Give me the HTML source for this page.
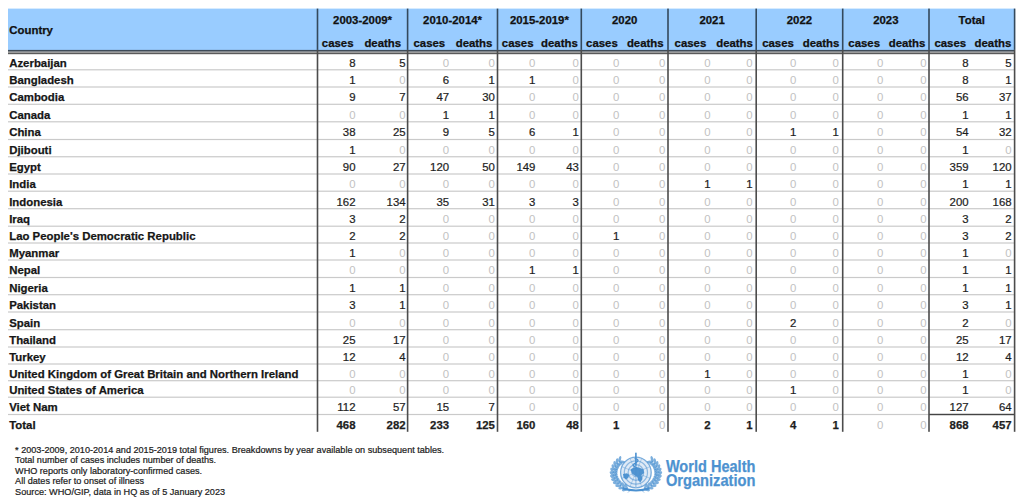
<!DOCTYPE html><html><head><meta charset="utf-8"><style>html,body{margin:0;padding:0;background:#fff;width:1024px;height:500px;overflow:hidden}svg{display:block}text{font-family:"Liberation Sans",sans-serif}</style></head><body>
<svg width="1024" height="500" viewBox="0 0 1024 500">
<rect x="8" y="8.6" width="1006.8" height="41.4" fill="#99ccff"/>
<rect x="8" y="49.9" width="1006.8" height="1.8" fill="#3e4b58"/>
<rect x="8" y="51.7" width="1006.8" height="1.2" fill="#9a9a9a"/>
<rect x="8" y="52.9" width="1006.8" height="1.3" fill="#5a5a5a"/>
<rect x="8" y="69.20" width="1006.8" height="1.2" fill="#cacaca"/>
<rect x="8" y="86.40" width="1006.8" height="1.2" fill="#cacaca"/>
<rect x="8" y="103.70" width="1006.8" height="1.2" fill="#cacaca"/>
<rect x="8" y="121.20" width="1006.8" height="1.2" fill="#cacaca"/>
<rect x="8" y="138.90" width="1006.8" height="1.2" fill="#cacaca"/>
<rect x="8" y="156.15" width="1006.8" height="1.2" fill="#cacaca"/>
<rect x="8" y="173.40" width="1006.8" height="1.2" fill="#cacaca"/>
<rect x="8" y="190.60" width="1006.8" height="1.2" fill="#cacaca"/>
<rect x="8" y="208.10" width="1006.8" height="1.2" fill="#cacaca"/>
<rect x="8" y="225.60" width="1006.8" height="1.2" fill="#cacaca"/>
<rect x="8" y="242.40" width="1006.8" height="1.2" fill="#cacaca"/>
<rect x="8" y="259.40" width="1006.8" height="1.2" fill="#cacaca"/>
<rect x="8" y="276.90" width="1006.8" height="1.2" fill="#cacaca"/>
<rect x="8" y="294.10" width="1006.8" height="1.2" fill="#cacaca"/>
<rect x="8" y="311.40" width="1006.8" height="1.2" fill="#cacaca"/>
<rect x="8" y="329.10" width="1006.8" height="1.2" fill="#cacaca"/>
<rect x="8" y="346.40" width="1006.8" height="1.2" fill="#cacaca"/>
<rect x="8" y="363.40" width="1006.8" height="1.2" fill="#cacaca"/>
<rect x="8" y="380.10" width="1006.8" height="1.2" fill="#cacaca"/>
<rect x="8" y="396.60" width="1006.8" height="1.2" fill="#cacaca"/>
<rect x="8" y="413.90" width="1006.8" height="1.2" fill="#cacaca"/>
<rect x="929.00" y="413.80" width="85.60" height="1.4" fill="#444"/>
<rect x="316.70" y="8.6" width="1.6" height="41.30" fill="#34495c"/>
<rect x="316.70" y="49.9" width="1.6" height="381.90" fill="#4c4c4c"/>
<rect x="406.80" y="8.6" width="1.6" height="41.30" fill="#34495c"/>
<rect x="406.80" y="49.9" width="1.6" height="381.90" fill="#4c4c4c"/>
<rect x="496.70" y="8.6" width="1.6" height="41.30" fill="#34495c"/>
<rect x="496.70" y="49.9" width="1.6" height="381.90" fill="#4c4c4c"/>
<rect x="580.50" y="8.6" width="1.6" height="41.30" fill="#34495c"/>
<rect x="580.50" y="49.9" width="1.6" height="381.90" fill="#4c4c4c"/>
<rect x="667.20" y="8.6" width="1.6" height="41.30" fill="#34495c"/>
<rect x="667.20" y="49.9" width="1.6" height="381.90" fill="#4c4c4c"/>
<rect x="755.40" y="8.6" width="1.6" height="41.30" fill="#34495c"/>
<rect x="755.40" y="49.9" width="1.6" height="381.90" fill="#4c4c4c"/>
<rect x="841.90" y="8.6" width="1.6" height="41.30" fill="#34495c"/>
<rect x="841.90" y="49.9" width="1.6" height="381.90" fill="#4c4c4c"/>
<rect x="928.20" y="8.6" width="1.6" height="41.30" fill="#34495c"/>
<rect x="928.20" y="49.9" width="1.6" height="381.90" fill="#4c4c4c"/>
<rect x="1013.80" y="8.6" width="1.6" height="41.30" fill="#34495c"/>
<rect x="1013.80" y="49.9" width="1.6" height="381.90" fill="#4c4c4c"/>
<text x="9.3" y="34.1" font-size="11.4" font-weight="bold" fill="#111" stroke="#111" stroke-width="0.25">Country</text>
<text x="362.55" y="23.5" font-size="11.4" font-weight="bold" fill="#111" text-anchor="middle" stroke="#111" stroke-width="0.25">2003-2009*</text>
<text x="321.80" y="47" font-size="11.4" font-weight="bold" fill="#111" stroke="#111" stroke-width="0.25">cases</text>
<text x="401.10" y="47" font-size="11.4" font-weight="bold" fill="#111" text-anchor="end" stroke="#111" stroke-width="0.25">deaths</text>
<text x="452.55" y="23.5" font-size="11.4" font-weight="bold" fill="#111" text-anchor="middle" stroke="#111" stroke-width="0.25">2010-2014*</text>
<text x="413.50" y="47" font-size="11.4" font-weight="bold" fill="#111" stroke="#111" stroke-width="0.25">cases</text>
<text x="492.40" y="47" font-size="11.4" font-weight="bold" fill="#111" text-anchor="end" stroke="#111" stroke-width="0.25">deaths</text>
<text x="539.40" y="23.5" font-size="11.4" font-weight="bold" fill="#111" text-anchor="middle" stroke="#111" stroke-width="0.25">2015-2019*</text>
<text x="501.80" y="47" font-size="11.4" font-weight="bold" fill="#111" stroke="#111" stroke-width="0.25">cases</text>
<text x="577.80" y="47" font-size="11.4" font-weight="bold" fill="#111" text-anchor="end" stroke="#111" stroke-width="0.25">deaths</text>
<text x="624.65" y="23.5" font-size="11.4" font-weight="bold" fill="#111" text-anchor="middle" stroke="#111" stroke-width="0.25">2020</text>
<text x="586.10" y="47" font-size="11.4" font-weight="bold" fill="#111" stroke="#111" stroke-width="0.25">cases</text>
<text x="663.60" y="47" font-size="11.4" font-weight="bold" fill="#111" text-anchor="end" stroke="#111" stroke-width="0.25">deaths</text>
<text x="712.10" y="23.5" font-size="11.4" font-weight="bold" fill="#111" text-anchor="middle" stroke="#111" stroke-width="0.25">2021</text>
<text x="674.60" y="47" font-size="11.4" font-weight="bold" fill="#111" stroke="#111" stroke-width="0.25">cases</text>
<text x="752.90" y="47" font-size="11.4" font-weight="bold" fill="#111" text-anchor="end" stroke="#111" stroke-width="0.25">deaths</text>
<text x="799.45" y="23.5" font-size="11.4" font-weight="bold" fill="#111" text-anchor="middle" stroke="#111" stroke-width="0.25">2022</text>
<text x="762.20" y="47" font-size="11.4" font-weight="bold" fill="#111" stroke="#111" stroke-width="0.25">cases</text>
<text x="839.40" y="47" font-size="11.4" font-weight="bold" fill="#111" text-anchor="end" stroke="#111" stroke-width="0.25">deaths</text>
<text x="885.85" y="23.5" font-size="11.4" font-weight="bold" fill="#111" text-anchor="middle" stroke="#111" stroke-width="0.25">2023</text>
<text x="848.30" y="47" font-size="11.4" font-weight="bold" fill="#111" stroke="#111" stroke-width="0.25">cases</text>
<text x="925.40" y="47" font-size="11.4" font-weight="bold" fill="#111" text-anchor="end" stroke="#111" stroke-width="0.25">deaths</text>
<text x="971.80" y="23.5" font-size="11.4" font-weight="bold" fill="#111" text-anchor="middle" stroke="#111" stroke-width="0.25">Total</text>
<text x="934.40" y="47" font-size="11.4" font-weight="bold" fill="#111" stroke="#111" stroke-width="0.25">cases</text>
<text x="1011.30" y="47" font-size="11.4" font-weight="bold" fill="#111" text-anchor="end" stroke="#111" stroke-width="0.25">deaths</text>
<text x="9.2" y="66.60" font-size="11.4" font-weight="bold" fill="#161616" stroke="#161616" stroke-width="0.25">Azerbaijan</text>
<text x="355.50" y="66.60" font-size="11.4" fill="#1e1e1e" text-anchor="end" stroke="#1e1e1e" stroke-width="0.22">8</text>
<text x="405.60" y="66.60" font-size="11.4" fill="#1e1e1e" text-anchor="end" stroke="#1e1e1e" stroke-width="0.22">5</text>
<text x="449.10" y="66.60" font-size="11.4" fill="#c2c2c2" text-anchor="end">0</text>
<text x="494.90" y="66.60" font-size="11.4" fill="#c2c2c2" text-anchor="end">0</text>
<text x="535.40" y="66.60" font-size="11.4" fill="#c2c2c2" text-anchor="end">0</text>
<text x="578.80" y="66.60" font-size="11.4" fill="#c2c2c2" text-anchor="end">0</text>
<text x="619.30" y="66.60" font-size="11.4" fill="#c2c2c2" text-anchor="end">0</text>
<text x="665.30" y="66.60" font-size="11.4" fill="#c2c2c2" text-anchor="end">0</text>
<text x="710.50" y="66.60" font-size="11.4" fill="#c2c2c2" text-anchor="end">0</text>
<text x="752.60" y="66.60" font-size="11.4" fill="#c2c2c2" text-anchor="end">0</text>
<text x="796.30" y="66.60" font-size="11.4" fill="#c2c2c2" text-anchor="end">0</text>
<text x="838.90" y="66.60" font-size="11.4" fill="#c2c2c2" text-anchor="end">0</text>
<text x="883.40" y="66.60" font-size="11.4" fill="#c2c2c2" text-anchor="end">0</text>
<text x="926.50" y="66.60" font-size="11.4" fill="#c2c2c2" text-anchor="end">0</text>
<text x="968.60" y="66.60" font-size="11.4" fill="#1e1e1e" text-anchor="end" stroke="#1e1e1e" stroke-width="0.22">8</text>
<text x="1011.60" y="66.60" font-size="11.4" fill="#1e1e1e" text-anchor="end" stroke="#1e1e1e" stroke-width="0.22">5</text>
<text x="9.2" y="83.80" font-size="11.4" font-weight="bold" fill="#161616" stroke="#161616" stroke-width="0.25">Bangladesh</text>
<text x="355.50" y="83.80" font-size="11.4" fill="#1e1e1e" text-anchor="end" stroke="#1e1e1e" stroke-width="0.22">1</text>
<text x="405.60" y="83.80" font-size="11.4" fill="#c2c2c2" text-anchor="end">0</text>
<text x="449.10" y="83.80" font-size="11.4" fill="#1e1e1e" text-anchor="end" stroke="#1e1e1e" stroke-width="0.22">6</text>
<text x="494.90" y="83.80" font-size="11.4" fill="#1e1e1e" text-anchor="end" stroke="#1e1e1e" stroke-width="0.22">1</text>
<text x="535.40" y="83.80" font-size="11.4" fill="#1e1e1e" text-anchor="end" stroke="#1e1e1e" stroke-width="0.22">1</text>
<text x="578.80" y="83.80" font-size="11.4" fill="#c2c2c2" text-anchor="end">0</text>
<text x="619.30" y="83.80" font-size="11.4" fill="#c2c2c2" text-anchor="end">0</text>
<text x="665.30" y="83.80" font-size="11.4" fill="#c2c2c2" text-anchor="end">0</text>
<text x="710.50" y="83.80" font-size="11.4" fill="#c2c2c2" text-anchor="end">0</text>
<text x="752.60" y="83.80" font-size="11.4" fill="#c2c2c2" text-anchor="end">0</text>
<text x="796.30" y="83.80" font-size="11.4" fill="#c2c2c2" text-anchor="end">0</text>
<text x="838.90" y="83.80" font-size="11.4" fill="#c2c2c2" text-anchor="end">0</text>
<text x="883.40" y="83.80" font-size="11.4" fill="#c2c2c2" text-anchor="end">0</text>
<text x="926.50" y="83.80" font-size="11.4" fill="#c2c2c2" text-anchor="end">0</text>
<text x="968.60" y="83.80" font-size="11.4" fill="#1e1e1e" text-anchor="end" stroke="#1e1e1e" stroke-width="0.22">8</text>
<text x="1011.60" y="83.80" font-size="11.4" fill="#1e1e1e" text-anchor="end" stroke="#1e1e1e" stroke-width="0.22">1</text>
<text x="9.2" y="101.10" font-size="11.4" font-weight="bold" fill="#161616" stroke="#161616" stroke-width="0.25">Cambodia</text>
<text x="355.50" y="101.10" font-size="11.4" fill="#1e1e1e" text-anchor="end" stroke="#1e1e1e" stroke-width="0.22">9</text>
<text x="405.60" y="101.10" font-size="11.4" fill="#1e1e1e" text-anchor="end" stroke="#1e1e1e" stroke-width="0.22">7</text>
<text x="449.10" y="101.10" font-size="11.4" fill="#1e1e1e" text-anchor="end" stroke="#1e1e1e" stroke-width="0.22">47</text>
<text x="494.90" y="101.10" font-size="11.4" fill="#1e1e1e" text-anchor="end" stroke="#1e1e1e" stroke-width="0.22">30</text>
<text x="535.40" y="101.10" font-size="11.4" fill="#c2c2c2" text-anchor="end">0</text>
<text x="578.80" y="101.10" font-size="11.4" fill="#c2c2c2" text-anchor="end">0</text>
<text x="619.30" y="101.10" font-size="11.4" fill="#c2c2c2" text-anchor="end">0</text>
<text x="665.30" y="101.10" font-size="11.4" fill="#c2c2c2" text-anchor="end">0</text>
<text x="710.50" y="101.10" font-size="11.4" fill="#c2c2c2" text-anchor="end">0</text>
<text x="752.60" y="101.10" font-size="11.4" fill="#c2c2c2" text-anchor="end">0</text>
<text x="796.30" y="101.10" font-size="11.4" fill="#c2c2c2" text-anchor="end">0</text>
<text x="838.90" y="101.10" font-size="11.4" fill="#c2c2c2" text-anchor="end">0</text>
<text x="883.40" y="101.10" font-size="11.4" fill="#c2c2c2" text-anchor="end">0</text>
<text x="926.50" y="101.10" font-size="11.4" fill="#c2c2c2" text-anchor="end">0</text>
<text x="968.60" y="101.10" font-size="11.4" fill="#1e1e1e" text-anchor="end" stroke="#1e1e1e" stroke-width="0.22">56</text>
<text x="1011.60" y="101.10" font-size="11.4" fill="#1e1e1e" text-anchor="end" stroke="#1e1e1e" stroke-width="0.22">37</text>
<text x="9.2" y="118.60" font-size="11.4" font-weight="bold" fill="#161616" stroke="#161616" stroke-width="0.25">Canada</text>
<text x="355.50" y="118.60" font-size="11.4" fill="#c2c2c2" text-anchor="end">0</text>
<text x="405.60" y="118.60" font-size="11.4" fill="#c2c2c2" text-anchor="end">0</text>
<text x="449.10" y="118.60" font-size="11.4" fill="#1e1e1e" text-anchor="end" stroke="#1e1e1e" stroke-width="0.22">1</text>
<text x="494.90" y="118.60" font-size="11.4" fill="#1e1e1e" text-anchor="end" stroke="#1e1e1e" stroke-width="0.22">1</text>
<text x="535.40" y="118.60" font-size="11.4" fill="#c2c2c2" text-anchor="end">0</text>
<text x="578.80" y="118.60" font-size="11.4" fill="#c2c2c2" text-anchor="end">0</text>
<text x="619.30" y="118.60" font-size="11.4" fill="#c2c2c2" text-anchor="end">0</text>
<text x="665.30" y="118.60" font-size="11.4" fill="#c2c2c2" text-anchor="end">0</text>
<text x="710.50" y="118.60" font-size="11.4" fill="#c2c2c2" text-anchor="end">0</text>
<text x="752.60" y="118.60" font-size="11.4" fill="#c2c2c2" text-anchor="end">0</text>
<text x="796.30" y="118.60" font-size="11.4" fill="#c2c2c2" text-anchor="end">0</text>
<text x="838.90" y="118.60" font-size="11.4" fill="#c2c2c2" text-anchor="end">0</text>
<text x="883.40" y="118.60" font-size="11.4" fill="#c2c2c2" text-anchor="end">0</text>
<text x="926.50" y="118.60" font-size="11.4" fill="#c2c2c2" text-anchor="end">0</text>
<text x="968.60" y="118.60" font-size="11.4" fill="#1e1e1e" text-anchor="end" stroke="#1e1e1e" stroke-width="0.22">1</text>
<text x="1011.60" y="118.60" font-size="11.4" fill="#1e1e1e" text-anchor="end" stroke="#1e1e1e" stroke-width="0.22">1</text>
<text x="9.2" y="136.30" font-size="11.4" font-weight="bold" fill="#161616" stroke="#161616" stroke-width="0.25">China</text>
<text x="355.50" y="136.30" font-size="11.4" fill="#1e1e1e" text-anchor="end" stroke="#1e1e1e" stroke-width="0.22">38</text>
<text x="405.60" y="136.30" font-size="11.4" fill="#1e1e1e" text-anchor="end" stroke="#1e1e1e" stroke-width="0.22">25</text>
<text x="449.10" y="136.30" font-size="11.4" fill="#1e1e1e" text-anchor="end" stroke="#1e1e1e" stroke-width="0.22">9</text>
<text x="494.90" y="136.30" font-size="11.4" fill="#1e1e1e" text-anchor="end" stroke="#1e1e1e" stroke-width="0.22">5</text>
<text x="535.40" y="136.30" font-size="11.4" fill="#1e1e1e" text-anchor="end" stroke="#1e1e1e" stroke-width="0.22">6</text>
<text x="578.80" y="136.30" font-size="11.4" fill="#1e1e1e" text-anchor="end" stroke="#1e1e1e" stroke-width="0.22">1</text>
<text x="619.30" y="136.30" font-size="11.4" fill="#c2c2c2" text-anchor="end">0</text>
<text x="665.30" y="136.30" font-size="11.4" fill="#c2c2c2" text-anchor="end">0</text>
<text x="710.50" y="136.30" font-size="11.4" fill="#c2c2c2" text-anchor="end">0</text>
<text x="752.60" y="136.30" font-size="11.4" fill="#c2c2c2" text-anchor="end">0</text>
<text x="796.30" y="136.30" font-size="11.4" fill="#1e1e1e" text-anchor="end" stroke="#1e1e1e" stroke-width="0.22">1</text>
<text x="838.90" y="136.30" font-size="11.4" fill="#1e1e1e" text-anchor="end" stroke="#1e1e1e" stroke-width="0.22">1</text>
<text x="883.40" y="136.30" font-size="11.4" fill="#c2c2c2" text-anchor="end">0</text>
<text x="926.50" y="136.30" font-size="11.4" fill="#c2c2c2" text-anchor="end">0</text>
<text x="968.60" y="136.30" font-size="11.4" fill="#1e1e1e" text-anchor="end" stroke="#1e1e1e" stroke-width="0.22">54</text>
<text x="1011.60" y="136.30" font-size="11.4" fill="#1e1e1e" text-anchor="end" stroke="#1e1e1e" stroke-width="0.22">32</text>
<text x="9.2" y="153.55" font-size="11.4" font-weight="bold" fill="#161616" stroke="#161616" stroke-width="0.25">Djibouti</text>
<text x="355.50" y="153.55" font-size="11.4" fill="#1e1e1e" text-anchor="end" stroke="#1e1e1e" stroke-width="0.22">1</text>
<text x="405.60" y="153.55" font-size="11.4" fill="#c2c2c2" text-anchor="end">0</text>
<text x="449.10" y="153.55" font-size="11.4" fill="#c2c2c2" text-anchor="end">0</text>
<text x="494.90" y="153.55" font-size="11.4" fill="#c2c2c2" text-anchor="end">0</text>
<text x="535.40" y="153.55" font-size="11.4" fill="#c2c2c2" text-anchor="end">0</text>
<text x="578.80" y="153.55" font-size="11.4" fill="#c2c2c2" text-anchor="end">0</text>
<text x="619.30" y="153.55" font-size="11.4" fill="#c2c2c2" text-anchor="end">0</text>
<text x="665.30" y="153.55" font-size="11.4" fill="#c2c2c2" text-anchor="end">0</text>
<text x="710.50" y="153.55" font-size="11.4" fill="#c2c2c2" text-anchor="end">0</text>
<text x="752.60" y="153.55" font-size="11.4" fill="#c2c2c2" text-anchor="end">0</text>
<text x="796.30" y="153.55" font-size="11.4" fill="#c2c2c2" text-anchor="end">0</text>
<text x="838.90" y="153.55" font-size="11.4" fill="#c2c2c2" text-anchor="end">0</text>
<text x="883.40" y="153.55" font-size="11.4" fill="#c2c2c2" text-anchor="end">0</text>
<text x="926.50" y="153.55" font-size="11.4" fill="#c2c2c2" text-anchor="end">0</text>
<text x="968.60" y="153.55" font-size="11.4" fill="#1e1e1e" text-anchor="end" stroke="#1e1e1e" stroke-width="0.22">1</text>
<text x="1011.60" y="153.55" font-size="11.4" fill="#c2c2c2" text-anchor="end">0</text>
<text x="9.2" y="170.80" font-size="11.4" font-weight="bold" fill="#161616" stroke="#161616" stroke-width="0.25">Egypt</text>
<text x="355.50" y="170.80" font-size="11.4" fill="#1e1e1e" text-anchor="end" stroke="#1e1e1e" stroke-width="0.22">90</text>
<text x="405.60" y="170.80" font-size="11.4" fill="#1e1e1e" text-anchor="end" stroke="#1e1e1e" stroke-width="0.22">27</text>
<text x="449.10" y="170.80" font-size="11.4" fill="#1e1e1e" text-anchor="end" stroke="#1e1e1e" stroke-width="0.22">120</text>
<text x="494.90" y="170.80" font-size="11.4" fill="#1e1e1e" text-anchor="end" stroke="#1e1e1e" stroke-width="0.22">50</text>
<text x="535.40" y="170.80" font-size="11.4" fill="#1e1e1e" text-anchor="end" stroke="#1e1e1e" stroke-width="0.22">149</text>
<text x="578.80" y="170.80" font-size="11.4" fill="#1e1e1e" text-anchor="end" stroke="#1e1e1e" stroke-width="0.22">43</text>
<text x="619.30" y="170.80" font-size="11.4" fill="#c2c2c2" text-anchor="end">0</text>
<text x="665.30" y="170.80" font-size="11.4" fill="#c2c2c2" text-anchor="end">0</text>
<text x="710.50" y="170.80" font-size="11.4" fill="#c2c2c2" text-anchor="end">0</text>
<text x="752.60" y="170.80" font-size="11.4" fill="#c2c2c2" text-anchor="end">0</text>
<text x="796.30" y="170.80" font-size="11.4" fill="#c2c2c2" text-anchor="end">0</text>
<text x="838.90" y="170.80" font-size="11.4" fill="#c2c2c2" text-anchor="end">0</text>
<text x="883.40" y="170.80" font-size="11.4" fill="#c2c2c2" text-anchor="end">0</text>
<text x="926.50" y="170.80" font-size="11.4" fill="#c2c2c2" text-anchor="end">0</text>
<text x="968.60" y="170.80" font-size="11.4" fill="#1e1e1e" text-anchor="end" stroke="#1e1e1e" stroke-width="0.22">359</text>
<text x="1011.60" y="170.80" font-size="11.4" fill="#1e1e1e" text-anchor="end" stroke="#1e1e1e" stroke-width="0.22">120</text>
<text x="9.2" y="188.00" font-size="11.4" font-weight="bold" fill="#161616" stroke="#161616" stroke-width="0.25">India</text>
<text x="355.50" y="188.00" font-size="11.4" fill="#c2c2c2" text-anchor="end">0</text>
<text x="405.60" y="188.00" font-size="11.4" fill="#c2c2c2" text-anchor="end">0</text>
<text x="449.10" y="188.00" font-size="11.4" fill="#c2c2c2" text-anchor="end">0</text>
<text x="494.90" y="188.00" font-size="11.4" fill="#c2c2c2" text-anchor="end">0</text>
<text x="535.40" y="188.00" font-size="11.4" fill="#c2c2c2" text-anchor="end">0</text>
<text x="578.80" y="188.00" font-size="11.4" fill="#c2c2c2" text-anchor="end">0</text>
<text x="619.30" y="188.00" font-size="11.4" fill="#c2c2c2" text-anchor="end">0</text>
<text x="665.30" y="188.00" font-size="11.4" fill="#c2c2c2" text-anchor="end">0</text>
<text x="710.50" y="188.00" font-size="11.4" fill="#1e1e1e" text-anchor="end" stroke="#1e1e1e" stroke-width="0.22">1</text>
<text x="752.60" y="188.00" font-size="11.4" fill="#1e1e1e" text-anchor="end" stroke="#1e1e1e" stroke-width="0.22">1</text>
<text x="796.30" y="188.00" font-size="11.4" fill="#c2c2c2" text-anchor="end">0</text>
<text x="838.90" y="188.00" font-size="11.4" fill="#c2c2c2" text-anchor="end">0</text>
<text x="883.40" y="188.00" font-size="11.4" fill="#c2c2c2" text-anchor="end">0</text>
<text x="926.50" y="188.00" font-size="11.4" fill="#c2c2c2" text-anchor="end">0</text>
<text x="968.60" y="188.00" font-size="11.4" fill="#1e1e1e" text-anchor="end" stroke="#1e1e1e" stroke-width="0.22">1</text>
<text x="1011.60" y="188.00" font-size="11.4" fill="#1e1e1e" text-anchor="end" stroke="#1e1e1e" stroke-width="0.22">1</text>
<text x="9.2" y="205.50" font-size="11.4" font-weight="bold" fill="#161616" stroke="#161616" stroke-width="0.25">Indonesia</text>
<text x="355.50" y="205.50" font-size="11.4" fill="#1e1e1e" text-anchor="end" stroke="#1e1e1e" stroke-width="0.22">162</text>
<text x="405.60" y="205.50" font-size="11.4" fill="#1e1e1e" text-anchor="end" stroke="#1e1e1e" stroke-width="0.22">134</text>
<text x="449.10" y="205.50" font-size="11.4" fill="#1e1e1e" text-anchor="end" stroke="#1e1e1e" stroke-width="0.22">35</text>
<text x="494.90" y="205.50" font-size="11.4" fill="#1e1e1e" text-anchor="end" stroke="#1e1e1e" stroke-width="0.22">31</text>
<text x="535.40" y="205.50" font-size="11.4" fill="#1e1e1e" text-anchor="end" stroke="#1e1e1e" stroke-width="0.22">3</text>
<text x="578.80" y="205.50" font-size="11.4" fill="#1e1e1e" text-anchor="end" stroke="#1e1e1e" stroke-width="0.22">3</text>
<text x="619.30" y="205.50" font-size="11.4" fill="#c2c2c2" text-anchor="end">0</text>
<text x="665.30" y="205.50" font-size="11.4" fill="#c2c2c2" text-anchor="end">0</text>
<text x="710.50" y="205.50" font-size="11.4" fill="#c2c2c2" text-anchor="end">0</text>
<text x="752.60" y="205.50" font-size="11.4" fill="#c2c2c2" text-anchor="end">0</text>
<text x="796.30" y="205.50" font-size="11.4" fill="#c2c2c2" text-anchor="end">0</text>
<text x="838.90" y="205.50" font-size="11.4" fill="#c2c2c2" text-anchor="end">0</text>
<text x="883.40" y="205.50" font-size="11.4" fill="#c2c2c2" text-anchor="end">0</text>
<text x="926.50" y="205.50" font-size="11.4" fill="#c2c2c2" text-anchor="end">0</text>
<text x="968.60" y="205.50" font-size="11.4" fill="#1e1e1e" text-anchor="end" stroke="#1e1e1e" stroke-width="0.22">200</text>
<text x="1011.60" y="205.50" font-size="11.4" fill="#1e1e1e" text-anchor="end" stroke="#1e1e1e" stroke-width="0.22">168</text>
<text x="9.2" y="223.00" font-size="11.4" font-weight="bold" fill="#161616" stroke="#161616" stroke-width="0.25">Iraq</text>
<text x="355.50" y="223.00" font-size="11.4" fill="#1e1e1e" text-anchor="end" stroke="#1e1e1e" stroke-width="0.22">3</text>
<text x="405.60" y="223.00" font-size="11.4" fill="#1e1e1e" text-anchor="end" stroke="#1e1e1e" stroke-width="0.22">2</text>
<text x="449.10" y="223.00" font-size="11.4" fill="#c2c2c2" text-anchor="end">0</text>
<text x="494.90" y="223.00" font-size="11.4" fill="#c2c2c2" text-anchor="end">0</text>
<text x="535.40" y="223.00" font-size="11.4" fill="#c2c2c2" text-anchor="end">0</text>
<text x="578.80" y="223.00" font-size="11.4" fill="#c2c2c2" text-anchor="end">0</text>
<text x="619.30" y="223.00" font-size="11.4" fill="#c2c2c2" text-anchor="end">0</text>
<text x="665.30" y="223.00" font-size="11.4" fill="#c2c2c2" text-anchor="end">0</text>
<text x="710.50" y="223.00" font-size="11.4" fill="#c2c2c2" text-anchor="end">0</text>
<text x="752.60" y="223.00" font-size="11.4" fill="#c2c2c2" text-anchor="end">0</text>
<text x="796.30" y="223.00" font-size="11.4" fill="#c2c2c2" text-anchor="end">0</text>
<text x="838.90" y="223.00" font-size="11.4" fill="#c2c2c2" text-anchor="end">0</text>
<text x="883.40" y="223.00" font-size="11.4" fill="#c2c2c2" text-anchor="end">0</text>
<text x="926.50" y="223.00" font-size="11.4" fill="#c2c2c2" text-anchor="end">0</text>
<text x="968.60" y="223.00" font-size="11.4" fill="#1e1e1e" text-anchor="end" stroke="#1e1e1e" stroke-width="0.22">3</text>
<text x="1011.60" y="223.00" font-size="11.4" fill="#1e1e1e" text-anchor="end" stroke="#1e1e1e" stroke-width="0.22">2</text>
<text x="9.2" y="239.80" font-size="11.4" font-weight="bold" fill="#161616" stroke="#161616" stroke-width="0.25">Lao People&#39;s Democratic Republic</text>
<text x="355.50" y="239.80" font-size="11.4" fill="#1e1e1e" text-anchor="end" stroke="#1e1e1e" stroke-width="0.22">2</text>
<text x="405.60" y="239.80" font-size="11.4" fill="#1e1e1e" text-anchor="end" stroke="#1e1e1e" stroke-width="0.22">2</text>
<text x="449.10" y="239.80" font-size="11.4" fill="#c2c2c2" text-anchor="end">0</text>
<text x="494.90" y="239.80" font-size="11.4" fill="#c2c2c2" text-anchor="end">0</text>
<text x="535.40" y="239.80" font-size="11.4" fill="#c2c2c2" text-anchor="end">0</text>
<text x="578.80" y="239.80" font-size="11.4" fill="#c2c2c2" text-anchor="end">0</text>
<text x="619.30" y="239.80" font-size="11.4" fill="#1e1e1e" text-anchor="end" stroke="#1e1e1e" stroke-width="0.22">1</text>
<text x="665.30" y="239.80" font-size="11.4" fill="#c2c2c2" text-anchor="end">0</text>
<text x="710.50" y="239.80" font-size="11.4" fill="#c2c2c2" text-anchor="end">0</text>
<text x="752.60" y="239.80" font-size="11.4" fill="#c2c2c2" text-anchor="end">0</text>
<text x="796.30" y="239.80" font-size="11.4" fill="#c2c2c2" text-anchor="end">0</text>
<text x="838.90" y="239.80" font-size="11.4" fill="#c2c2c2" text-anchor="end">0</text>
<text x="883.40" y="239.80" font-size="11.4" fill="#c2c2c2" text-anchor="end">0</text>
<text x="926.50" y="239.80" font-size="11.4" fill="#c2c2c2" text-anchor="end">0</text>
<text x="968.60" y="239.80" font-size="11.4" fill="#1e1e1e" text-anchor="end" stroke="#1e1e1e" stroke-width="0.22">3</text>
<text x="1011.60" y="239.80" font-size="11.4" fill="#1e1e1e" text-anchor="end" stroke="#1e1e1e" stroke-width="0.22">2</text>
<text x="9.2" y="256.80" font-size="11.4" font-weight="bold" fill="#161616" stroke="#161616" stroke-width="0.25">Myanmar</text>
<text x="355.50" y="256.80" font-size="11.4" fill="#1e1e1e" text-anchor="end" stroke="#1e1e1e" stroke-width="0.22">1</text>
<text x="405.60" y="256.80" font-size="11.4" fill="#c2c2c2" text-anchor="end">0</text>
<text x="449.10" y="256.80" font-size="11.4" fill="#c2c2c2" text-anchor="end">0</text>
<text x="494.90" y="256.80" font-size="11.4" fill="#c2c2c2" text-anchor="end">0</text>
<text x="535.40" y="256.80" font-size="11.4" fill="#c2c2c2" text-anchor="end">0</text>
<text x="578.80" y="256.80" font-size="11.4" fill="#c2c2c2" text-anchor="end">0</text>
<text x="619.30" y="256.80" font-size="11.4" fill="#c2c2c2" text-anchor="end">0</text>
<text x="665.30" y="256.80" font-size="11.4" fill="#c2c2c2" text-anchor="end">0</text>
<text x="710.50" y="256.80" font-size="11.4" fill="#c2c2c2" text-anchor="end">0</text>
<text x="752.60" y="256.80" font-size="11.4" fill="#c2c2c2" text-anchor="end">0</text>
<text x="796.30" y="256.80" font-size="11.4" fill="#c2c2c2" text-anchor="end">0</text>
<text x="838.90" y="256.80" font-size="11.4" fill="#c2c2c2" text-anchor="end">0</text>
<text x="883.40" y="256.80" font-size="11.4" fill="#c2c2c2" text-anchor="end">0</text>
<text x="926.50" y="256.80" font-size="11.4" fill="#c2c2c2" text-anchor="end">0</text>
<text x="968.60" y="256.80" font-size="11.4" fill="#1e1e1e" text-anchor="end" stroke="#1e1e1e" stroke-width="0.22">1</text>
<text x="1011.60" y="256.80" font-size="11.4" fill="#c2c2c2" text-anchor="end">0</text>
<text x="9.2" y="274.30" font-size="11.4" font-weight="bold" fill="#161616" stroke="#161616" stroke-width="0.25">Nepal</text>
<text x="355.50" y="274.30" font-size="11.4" fill="#c2c2c2" text-anchor="end">0</text>
<text x="405.60" y="274.30" font-size="11.4" fill="#c2c2c2" text-anchor="end">0</text>
<text x="449.10" y="274.30" font-size="11.4" fill="#c2c2c2" text-anchor="end">0</text>
<text x="494.90" y="274.30" font-size="11.4" fill="#c2c2c2" text-anchor="end">0</text>
<text x="535.40" y="274.30" font-size="11.4" fill="#1e1e1e" text-anchor="end" stroke="#1e1e1e" stroke-width="0.22">1</text>
<text x="578.80" y="274.30" font-size="11.4" fill="#1e1e1e" text-anchor="end" stroke="#1e1e1e" stroke-width="0.22">1</text>
<text x="619.30" y="274.30" font-size="11.4" fill="#c2c2c2" text-anchor="end">0</text>
<text x="665.30" y="274.30" font-size="11.4" fill="#c2c2c2" text-anchor="end">0</text>
<text x="710.50" y="274.30" font-size="11.4" fill="#c2c2c2" text-anchor="end">0</text>
<text x="752.60" y="274.30" font-size="11.4" fill="#c2c2c2" text-anchor="end">0</text>
<text x="796.30" y="274.30" font-size="11.4" fill="#c2c2c2" text-anchor="end">0</text>
<text x="838.90" y="274.30" font-size="11.4" fill="#c2c2c2" text-anchor="end">0</text>
<text x="883.40" y="274.30" font-size="11.4" fill="#c2c2c2" text-anchor="end">0</text>
<text x="926.50" y="274.30" font-size="11.4" fill="#c2c2c2" text-anchor="end">0</text>
<text x="968.60" y="274.30" font-size="11.4" fill="#1e1e1e" text-anchor="end" stroke="#1e1e1e" stroke-width="0.22">1</text>
<text x="1011.60" y="274.30" font-size="11.4" fill="#1e1e1e" text-anchor="end" stroke="#1e1e1e" stroke-width="0.22">1</text>
<text x="9.2" y="291.50" font-size="11.4" font-weight="bold" fill="#161616" stroke="#161616" stroke-width="0.25">Nigeria</text>
<text x="355.50" y="291.50" font-size="11.4" fill="#1e1e1e" text-anchor="end" stroke="#1e1e1e" stroke-width="0.22">1</text>
<text x="405.60" y="291.50" font-size="11.4" fill="#1e1e1e" text-anchor="end" stroke="#1e1e1e" stroke-width="0.22">1</text>
<text x="449.10" y="291.50" font-size="11.4" fill="#c2c2c2" text-anchor="end">0</text>
<text x="494.90" y="291.50" font-size="11.4" fill="#c2c2c2" text-anchor="end">0</text>
<text x="535.40" y="291.50" font-size="11.4" fill="#c2c2c2" text-anchor="end">0</text>
<text x="578.80" y="291.50" font-size="11.4" fill="#c2c2c2" text-anchor="end">0</text>
<text x="619.30" y="291.50" font-size="11.4" fill="#c2c2c2" text-anchor="end">0</text>
<text x="665.30" y="291.50" font-size="11.4" fill="#c2c2c2" text-anchor="end">0</text>
<text x="710.50" y="291.50" font-size="11.4" fill="#c2c2c2" text-anchor="end">0</text>
<text x="752.60" y="291.50" font-size="11.4" fill="#c2c2c2" text-anchor="end">0</text>
<text x="796.30" y="291.50" font-size="11.4" fill="#c2c2c2" text-anchor="end">0</text>
<text x="838.90" y="291.50" font-size="11.4" fill="#c2c2c2" text-anchor="end">0</text>
<text x="883.40" y="291.50" font-size="11.4" fill="#c2c2c2" text-anchor="end">0</text>
<text x="926.50" y="291.50" font-size="11.4" fill="#c2c2c2" text-anchor="end">0</text>
<text x="968.60" y="291.50" font-size="11.4" fill="#1e1e1e" text-anchor="end" stroke="#1e1e1e" stroke-width="0.22">1</text>
<text x="1011.60" y="291.50" font-size="11.4" fill="#1e1e1e" text-anchor="end" stroke="#1e1e1e" stroke-width="0.22">1</text>
<text x="9.2" y="308.80" font-size="11.4" font-weight="bold" fill="#161616" stroke="#161616" stroke-width="0.25">Pakistan</text>
<text x="355.50" y="308.80" font-size="11.4" fill="#1e1e1e" text-anchor="end" stroke="#1e1e1e" stroke-width="0.22">3</text>
<text x="405.60" y="308.80" font-size="11.4" fill="#1e1e1e" text-anchor="end" stroke="#1e1e1e" stroke-width="0.22">1</text>
<text x="449.10" y="308.80" font-size="11.4" fill="#c2c2c2" text-anchor="end">0</text>
<text x="494.90" y="308.80" font-size="11.4" fill="#c2c2c2" text-anchor="end">0</text>
<text x="535.40" y="308.80" font-size="11.4" fill="#c2c2c2" text-anchor="end">0</text>
<text x="578.80" y="308.80" font-size="11.4" fill="#c2c2c2" text-anchor="end">0</text>
<text x="619.30" y="308.80" font-size="11.4" fill="#c2c2c2" text-anchor="end">0</text>
<text x="665.30" y="308.80" font-size="11.4" fill="#c2c2c2" text-anchor="end">0</text>
<text x="710.50" y="308.80" font-size="11.4" fill="#c2c2c2" text-anchor="end">0</text>
<text x="752.60" y="308.80" font-size="11.4" fill="#c2c2c2" text-anchor="end">0</text>
<text x="796.30" y="308.80" font-size="11.4" fill="#c2c2c2" text-anchor="end">0</text>
<text x="838.90" y="308.80" font-size="11.4" fill="#c2c2c2" text-anchor="end">0</text>
<text x="883.40" y="308.80" font-size="11.4" fill="#c2c2c2" text-anchor="end">0</text>
<text x="926.50" y="308.80" font-size="11.4" fill="#c2c2c2" text-anchor="end">0</text>
<text x="968.60" y="308.80" font-size="11.4" fill="#1e1e1e" text-anchor="end" stroke="#1e1e1e" stroke-width="0.22">3</text>
<text x="1011.60" y="308.80" font-size="11.4" fill="#1e1e1e" text-anchor="end" stroke="#1e1e1e" stroke-width="0.22">1</text>
<text x="9.2" y="326.50" font-size="11.4" font-weight="bold" fill="#161616" stroke="#161616" stroke-width="0.25">Spain</text>
<text x="355.50" y="326.50" font-size="11.4" fill="#c2c2c2" text-anchor="end">0</text>
<text x="405.60" y="326.50" font-size="11.4" fill="#c2c2c2" text-anchor="end">0</text>
<text x="449.10" y="326.50" font-size="11.4" fill="#c2c2c2" text-anchor="end">0</text>
<text x="494.90" y="326.50" font-size="11.4" fill="#c2c2c2" text-anchor="end">0</text>
<text x="535.40" y="326.50" font-size="11.4" fill="#c2c2c2" text-anchor="end">0</text>
<text x="578.80" y="326.50" font-size="11.4" fill="#c2c2c2" text-anchor="end">0</text>
<text x="619.30" y="326.50" font-size="11.4" fill="#c2c2c2" text-anchor="end">0</text>
<text x="665.30" y="326.50" font-size="11.4" fill="#c2c2c2" text-anchor="end">0</text>
<text x="710.50" y="326.50" font-size="11.4" fill="#c2c2c2" text-anchor="end">0</text>
<text x="752.60" y="326.50" font-size="11.4" fill="#c2c2c2" text-anchor="end">0</text>
<text x="796.30" y="326.50" font-size="11.4" fill="#1e1e1e" text-anchor="end" stroke="#1e1e1e" stroke-width="0.22">2</text>
<text x="838.90" y="326.50" font-size="11.4" fill="#c2c2c2" text-anchor="end">0</text>
<text x="883.40" y="326.50" font-size="11.4" fill="#c2c2c2" text-anchor="end">0</text>
<text x="926.50" y="326.50" font-size="11.4" fill="#c2c2c2" text-anchor="end">0</text>
<text x="968.60" y="326.50" font-size="11.4" fill="#1e1e1e" text-anchor="end" stroke="#1e1e1e" stroke-width="0.22">2</text>
<text x="1011.60" y="326.50" font-size="11.4" fill="#c2c2c2" text-anchor="end">0</text>
<text x="9.2" y="343.80" font-size="11.4" font-weight="bold" fill="#161616" stroke="#161616" stroke-width="0.25">Thailand</text>
<text x="355.50" y="343.80" font-size="11.4" fill="#1e1e1e" text-anchor="end" stroke="#1e1e1e" stroke-width="0.22">25</text>
<text x="405.60" y="343.80" font-size="11.4" fill="#1e1e1e" text-anchor="end" stroke="#1e1e1e" stroke-width="0.22">17</text>
<text x="449.10" y="343.80" font-size="11.4" fill="#c2c2c2" text-anchor="end">0</text>
<text x="494.90" y="343.80" font-size="11.4" fill="#c2c2c2" text-anchor="end">0</text>
<text x="535.40" y="343.80" font-size="11.4" fill="#c2c2c2" text-anchor="end">0</text>
<text x="578.80" y="343.80" font-size="11.4" fill="#c2c2c2" text-anchor="end">0</text>
<text x="619.30" y="343.80" font-size="11.4" fill="#c2c2c2" text-anchor="end">0</text>
<text x="665.30" y="343.80" font-size="11.4" fill="#c2c2c2" text-anchor="end">0</text>
<text x="710.50" y="343.80" font-size="11.4" fill="#c2c2c2" text-anchor="end">0</text>
<text x="752.60" y="343.80" font-size="11.4" fill="#c2c2c2" text-anchor="end">0</text>
<text x="796.30" y="343.80" font-size="11.4" fill="#c2c2c2" text-anchor="end">0</text>
<text x="838.90" y="343.80" font-size="11.4" fill="#c2c2c2" text-anchor="end">0</text>
<text x="883.40" y="343.80" font-size="11.4" fill="#c2c2c2" text-anchor="end">0</text>
<text x="926.50" y="343.80" font-size="11.4" fill="#c2c2c2" text-anchor="end">0</text>
<text x="968.60" y="343.80" font-size="11.4" fill="#1e1e1e" text-anchor="end" stroke="#1e1e1e" stroke-width="0.22">25</text>
<text x="1011.60" y="343.80" font-size="11.4" fill="#1e1e1e" text-anchor="end" stroke="#1e1e1e" stroke-width="0.22">17</text>
<text x="9.2" y="360.80" font-size="11.4" font-weight="bold" fill="#161616" stroke="#161616" stroke-width="0.25">Turkey</text>
<text x="355.50" y="360.80" font-size="11.4" fill="#1e1e1e" text-anchor="end" stroke="#1e1e1e" stroke-width="0.22">12</text>
<text x="405.60" y="360.80" font-size="11.4" fill="#1e1e1e" text-anchor="end" stroke="#1e1e1e" stroke-width="0.22">4</text>
<text x="449.10" y="360.80" font-size="11.4" fill="#c2c2c2" text-anchor="end">0</text>
<text x="494.90" y="360.80" font-size="11.4" fill="#c2c2c2" text-anchor="end">0</text>
<text x="535.40" y="360.80" font-size="11.4" fill="#c2c2c2" text-anchor="end">0</text>
<text x="578.80" y="360.80" font-size="11.4" fill="#c2c2c2" text-anchor="end">0</text>
<text x="619.30" y="360.80" font-size="11.4" fill="#c2c2c2" text-anchor="end">0</text>
<text x="665.30" y="360.80" font-size="11.4" fill="#c2c2c2" text-anchor="end">0</text>
<text x="710.50" y="360.80" font-size="11.4" fill="#c2c2c2" text-anchor="end">0</text>
<text x="752.60" y="360.80" font-size="11.4" fill="#c2c2c2" text-anchor="end">0</text>
<text x="796.30" y="360.80" font-size="11.4" fill="#c2c2c2" text-anchor="end">0</text>
<text x="838.90" y="360.80" font-size="11.4" fill="#c2c2c2" text-anchor="end">0</text>
<text x="883.40" y="360.80" font-size="11.4" fill="#c2c2c2" text-anchor="end">0</text>
<text x="926.50" y="360.80" font-size="11.4" fill="#c2c2c2" text-anchor="end">0</text>
<text x="968.60" y="360.80" font-size="11.4" fill="#1e1e1e" text-anchor="end" stroke="#1e1e1e" stroke-width="0.22">12</text>
<text x="1011.60" y="360.80" font-size="11.4" fill="#1e1e1e" text-anchor="end" stroke="#1e1e1e" stroke-width="0.22">4</text>
<text x="9.2" y="377.50" font-size="11.4" font-weight="bold" fill="#161616" stroke="#161616" stroke-width="0.25">United Kingdom of Great Britain and Northern Ireland</text>
<text x="355.50" y="377.50" font-size="11.4" fill="#c2c2c2" text-anchor="end">0</text>
<text x="405.60" y="377.50" font-size="11.4" fill="#c2c2c2" text-anchor="end">0</text>
<text x="449.10" y="377.50" font-size="11.4" fill="#c2c2c2" text-anchor="end">0</text>
<text x="494.90" y="377.50" font-size="11.4" fill="#c2c2c2" text-anchor="end">0</text>
<text x="535.40" y="377.50" font-size="11.4" fill="#c2c2c2" text-anchor="end">0</text>
<text x="578.80" y="377.50" font-size="11.4" fill="#c2c2c2" text-anchor="end">0</text>
<text x="619.30" y="377.50" font-size="11.4" fill="#c2c2c2" text-anchor="end">0</text>
<text x="665.30" y="377.50" font-size="11.4" fill="#c2c2c2" text-anchor="end">0</text>
<text x="710.50" y="377.50" font-size="11.4" fill="#1e1e1e" text-anchor="end" stroke="#1e1e1e" stroke-width="0.22">1</text>
<text x="752.60" y="377.50" font-size="11.4" fill="#c2c2c2" text-anchor="end">0</text>
<text x="796.30" y="377.50" font-size="11.4" fill="#c2c2c2" text-anchor="end">0</text>
<text x="838.90" y="377.50" font-size="11.4" fill="#c2c2c2" text-anchor="end">0</text>
<text x="883.40" y="377.50" font-size="11.4" fill="#c2c2c2" text-anchor="end">0</text>
<text x="926.50" y="377.50" font-size="11.4" fill="#c2c2c2" text-anchor="end">0</text>
<text x="968.60" y="377.50" font-size="11.4" fill="#1e1e1e" text-anchor="end" stroke="#1e1e1e" stroke-width="0.22">1</text>
<text x="1011.60" y="377.50" font-size="11.4" fill="#c2c2c2" text-anchor="end">0</text>
<text x="9.2" y="394.00" font-size="11.4" font-weight="bold" fill="#161616" stroke="#161616" stroke-width="0.25">United States of America</text>
<text x="355.50" y="394.00" font-size="11.4" fill="#c2c2c2" text-anchor="end">0</text>
<text x="405.60" y="394.00" font-size="11.4" fill="#c2c2c2" text-anchor="end">0</text>
<text x="449.10" y="394.00" font-size="11.4" fill="#c2c2c2" text-anchor="end">0</text>
<text x="494.90" y="394.00" font-size="11.4" fill="#c2c2c2" text-anchor="end">0</text>
<text x="535.40" y="394.00" font-size="11.4" fill="#c2c2c2" text-anchor="end">0</text>
<text x="578.80" y="394.00" font-size="11.4" fill="#c2c2c2" text-anchor="end">0</text>
<text x="619.30" y="394.00" font-size="11.4" fill="#c2c2c2" text-anchor="end">0</text>
<text x="665.30" y="394.00" font-size="11.4" fill="#c2c2c2" text-anchor="end">0</text>
<text x="710.50" y="394.00" font-size="11.4" fill="#c2c2c2" text-anchor="end">0</text>
<text x="752.60" y="394.00" font-size="11.4" fill="#c2c2c2" text-anchor="end">0</text>
<text x="796.30" y="394.00" font-size="11.4" fill="#1e1e1e" text-anchor="end" stroke="#1e1e1e" stroke-width="0.22">1</text>
<text x="838.90" y="394.00" font-size="11.4" fill="#c2c2c2" text-anchor="end">0</text>
<text x="883.40" y="394.00" font-size="11.4" fill="#c2c2c2" text-anchor="end">0</text>
<text x="926.50" y="394.00" font-size="11.4" fill="#c2c2c2" text-anchor="end">0</text>
<text x="968.60" y="394.00" font-size="11.4" fill="#1e1e1e" text-anchor="end" stroke="#1e1e1e" stroke-width="0.22">1</text>
<text x="1011.60" y="394.00" font-size="11.4" fill="#c2c2c2" text-anchor="end">0</text>
<text x="9.2" y="411.30" font-size="11.4" font-weight="bold" fill="#161616" stroke="#161616" stroke-width="0.25">Viet Nam</text>
<text x="355.50" y="411.30" font-size="11.4" fill="#1e1e1e" text-anchor="end" stroke="#1e1e1e" stroke-width="0.22">112</text>
<text x="405.60" y="411.30" font-size="11.4" fill="#1e1e1e" text-anchor="end" stroke="#1e1e1e" stroke-width="0.22">57</text>
<text x="449.10" y="411.30" font-size="11.4" fill="#1e1e1e" text-anchor="end" stroke="#1e1e1e" stroke-width="0.22">15</text>
<text x="494.90" y="411.30" font-size="11.4" fill="#1e1e1e" text-anchor="end" stroke="#1e1e1e" stroke-width="0.22">7</text>
<text x="535.40" y="411.30" font-size="11.4" fill="#c2c2c2" text-anchor="end">0</text>
<text x="578.80" y="411.30" font-size="11.4" fill="#c2c2c2" text-anchor="end">0</text>
<text x="619.30" y="411.30" font-size="11.4" fill="#c2c2c2" text-anchor="end">0</text>
<text x="665.30" y="411.30" font-size="11.4" fill="#c2c2c2" text-anchor="end">0</text>
<text x="710.50" y="411.30" font-size="11.4" fill="#c2c2c2" text-anchor="end">0</text>
<text x="752.60" y="411.30" font-size="11.4" fill="#c2c2c2" text-anchor="end">0</text>
<text x="796.30" y="411.30" font-size="11.4" fill="#c2c2c2" text-anchor="end">0</text>
<text x="838.90" y="411.30" font-size="11.4" fill="#c2c2c2" text-anchor="end">0</text>
<text x="883.40" y="411.30" font-size="11.4" fill="#c2c2c2" text-anchor="end">0</text>
<text x="926.50" y="411.30" font-size="11.4" fill="#c2c2c2" text-anchor="end">0</text>
<text x="968.60" y="411.30" font-size="11.4" fill="#1e1e1e" text-anchor="end" stroke="#1e1e1e" stroke-width="0.22">127</text>
<text x="1011.60" y="411.30" font-size="11.4" fill="#1e1e1e" text-anchor="end" stroke="#1e1e1e" stroke-width="0.22">64</text>
<text x="9.2" y="428.60" font-size="11.4" font-weight="bold" fill="#161616" stroke="#161616" stroke-width="0.25">Total</text>
<text x="355.50" y="428.60" font-size="11.4" font-weight="bold" fill="#1e1e1e" text-anchor="end" stroke="#1e1e1e" stroke-width="0.25">468</text>
<text x="405.60" y="428.60" font-size="11.4" font-weight="bold" fill="#1e1e1e" text-anchor="end" stroke="#1e1e1e" stroke-width="0.25">282</text>
<text x="449.10" y="428.60" font-size="11.4" font-weight="bold" fill="#1e1e1e" text-anchor="end" stroke="#1e1e1e" stroke-width="0.25">233</text>
<text x="494.90" y="428.60" font-size="11.4" font-weight="bold" fill="#1e1e1e" text-anchor="end" stroke="#1e1e1e" stroke-width="0.25">125</text>
<text x="535.40" y="428.60" font-size="11.4" font-weight="bold" fill="#1e1e1e" text-anchor="end" stroke="#1e1e1e" stroke-width="0.25">160</text>
<text x="578.80" y="428.60" font-size="11.4" font-weight="bold" fill="#1e1e1e" text-anchor="end" stroke="#1e1e1e" stroke-width="0.25">48</text>
<text x="619.30" y="428.60" font-size="11.4" font-weight="bold" fill="#1e1e1e" text-anchor="end" stroke="#1e1e1e" stroke-width="0.25">1</text>
<text x="665.30" y="428.60" font-size="11.4" fill="#c2c2c2" text-anchor="end">0</text>
<text x="710.50" y="428.60" font-size="11.4" font-weight="bold" fill="#1e1e1e" text-anchor="end" stroke="#1e1e1e" stroke-width="0.25">2</text>
<text x="752.60" y="428.60" font-size="11.4" font-weight="bold" fill="#1e1e1e" text-anchor="end" stroke="#1e1e1e" stroke-width="0.25">1</text>
<text x="796.30" y="428.60" font-size="11.4" font-weight="bold" fill="#1e1e1e" text-anchor="end" stroke="#1e1e1e" stroke-width="0.25">4</text>
<text x="838.90" y="428.60" font-size="11.4" font-weight="bold" fill="#1e1e1e" text-anchor="end" stroke="#1e1e1e" stroke-width="0.25">1</text>
<text x="883.40" y="428.60" font-size="11.4" fill="#c2c2c2" text-anchor="end">0</text>
<text x="926.50" y="428.60" font-size="11.4" fill="#c2c2c2" text-anchor="end">0</text>
<text x="968.60" y="428.60" font-size="11.4" font-weight="bold" fill="#1e1e1e" text-anchor="end" stroke="#1e1e1e" stroke-width="0.25">868</text>
<text x="1011.60" y="428.60" font-size="11.4" font-weight="bold" fill="#1e1e1e" text-anchor="end" stroke="#1e1e1e" stroke-width="0.25">457</text>
<text x="15.1" y="452.5" font-size="9.1" fill="#1c1c1c" stroke="#1c1c1c" stroke-width="0.22" textLength="429" lengthAdjust="spacingAndGlyphs">* 2003-2009, 2010-2014 and 2015-2019 total figures. Breakdowns by year available on subsequent tables.</text>
<text x="15.1" y="463.1" font-size="9.1" fill="#1c1c1c" stroke="#1c1c1c" stroke-width="0.22" textLength="201" lengthAdjust="spacingAndGlyphs">Total number of cases includes number of deaths.</text>
<text x="15.1" y="473.8" font-size="9.1" fill="#1c1c1c" stroke="#1c1c1c" stroke-width="0.22">WHO reports only laboratory-confirmed cases.</text>
<text x="15.1" y="483.8" font-size="9.1" fill="#1c1c1c" stroke="#1c1c1c" stroke-width="0.22">All dates refer to onset of illness</text>
<text x="15.1" y="494.5" font-size="9.1" fill="#1c1c1c" stroke="#1c1c1c" stroke-width="0.22" textLength="210" lengthAdjust="spacingAndGlyphs">Source: WHO/GIP, data in HQ as of 5 January 2023</text>
<text x="665.9" y="471.5" font-size="15.6" font-weight="bold" fill="#4d92d0" textLength="89.5" lengthAdjust="spacingAndGlyphs" stroke="#4d92d0" stroke-width="0.25">World Health</text>
<text x="665.9" y="486" font-size="15.6" font-weight="bold" fill="#4d92d0" textLength="89.5" lengthAdjust="spacingAndGlyphs" stroke="#4d92d0" stroke-width="0.25">Organization</text>
<circle cx="635.9" cy="472.5" r="15.6" fill="#dfeaf6"/><g fill="none" stroke="#4a90d0"><circle cx="635.9" cy="472.5" r="15.3" stroke-width="1.3" opacity="0.7"/><circle cx="635.9" cy="472.5" r="11.6" stroke-width="1.2" opacity="0.55"/><circle cx="635.9" cy="472.5" r="7.8" stroke-width="1.2" opacity="0.55"/><circle cx="635.9" cy="472.5" r="4.0" stroke-width="1.1" opacity="0.55"/><line x1="639.60" y1="474.03" x2="650.04" y2="478.36" stroke-width="0.8" opacity="0.45"/><line x1="637.43" y1="476.20" x2="641.76" y2="486.64" stroke-width="0.8" opacity="0.45"/><line x1="634.37" y1="476.20" x2="630.04" y2="486.64" stroke-width="0.8" opacity="0.45"/><line x1="632.20" y1="474.03" x2="621.76" y2="478.36" stroke-width="0.8" opacity="0.45"/><line x1="632.20" y1="470.97" x2="621.76" y2="466.64" stroke-width="0.8" opacity="0.45"/><line x1="634.37" y1="468.80" x2="630.04" y2="458.36" stroke-width="0.8" opacity="0.45"/><line x1="637.43" y1="468.80" x2="641.76" y2="458.36" stroke-width="0.8" opacity="0.45"/><line x1="639.60" y1="470.97" x2="650.04" y2="466.64" stroke-width="0.8" opacity="0.45"/></g><g fill="#4a90d0" opacity="0.95"><path d="M630.5,469.5 L634,467.2 L639,467.6 L643.5,469.5 L644,473 L641.5,475 L642.5,479 L640.5,482.3 L638.3,480.5 L637.2,476.5 L634.5,475.5 L632,473.5 Z"/><path d="M623,474 L627,473.2 L629.3,475 L628.2,478 L625.8,479.6 L623.5,477.5 Z"/></g><rect x="635.10" y="452.7" width="1.6" height="13" fill="#4a90d0"/><rect x="635.30" y="465" width="1.2" height="22" fill="#4a90d0" opacity="0.5"/><path d="M634.5,458.6 q4.5,0.6 3.2,2.6 q-1.5,1.8 -3.6,2.6 q-2.2,1.2 0.6,2.8 q3.2,1.4 2,3.2" fill="none" stroke="#4a90d0" stroke-width="1.3"/><ellipse cx="621.76" cy="461.80" rx="3.1" ry="1.35" transform="rotate(2.2 621.76 461.80)" fill="#4a90d0" opacity="0.72"/><ellipse cx="619.76" cy="459.04" rx="3.1" ry="1.35" transform="rotate(-73.8 619.76 459.04)" fill="#4a90d0" opacity="0.72"/><ellipse cx="619.41" cy="463.81" rx="3.1" ry="1.35" transform="rotate(-7.7 619.41 463.81)" fill="#4a90d0" opacity="0.72"/><ellipse cx="616.97" cy="461.44" rx="3.1" ry="1.35" transform="rotate(-83.7 616.97 461.44)" fill="#4a90d0" opacity="0.72"/><ellipse cx="617.57" cy="466.08" rx="3.1" ry="1.35" transform="rotate(-18.5 617.57 466.08)" fill="#4a90d0" opacity="0.72"/><ellipse cx="614.73" cy="464.20" rx="3.1" ry="1.35" transform="rotate(-94.5 614.73 464.20)" fill="#4a90d0" opacity="0.72"/><ellipse cx="616.28" cy="468.53" rx="3.1" ry="1.35" transform="rotate(-30.1 616.28 468.53)" fill="#4a90d0" opacity="0.72"/><ellipse cx="613.12" cy="467.26" rx="3.1" ry="1.35" transform="rotate(-106.1 613.12 467.26)" fill="#4a90d0" opacity="0.72"/><ellipse cx="615.56" cy="471.08" rx="3.1" ry="1.35" transform="rotate(-42.5 615.56 471.08)" fill="#4a90d0" opacity="0.72"/><ellipse cx="612.21" cy="470.52" rx="3.1" ry="1.35" transform="rotate(-118.5 612.21 470.52)" fill="#4a90d0" opacity="0.72"/><ellipse cx="615.42" cy="473.67" rx="3.1" ry="1.35" transform="rotate(-55.3 615.42 473.67)" fill="#4a90d0" opacity="0.72"/><ellipse cx="612.02" cy="473.86" rx="3.1" ry="1.35" transform="rotate(-131.3 612.02 473.86)" fill="#4a90d0" opacity="0.72"/><ellipse cx="615.86" cy="476.24" rx="3.1" ry="1.35" transform="rotate(-67.9 615.86 476.24)" fill="#4a90d0" opacity="0.72"/><ellipse cx="612.59" cy="477.18" rx="3.1" ry="1.35" transform="rotate(-143.9 612.59 477.18)" fill="#4a90d0" opacity="0.72"/><ellipse cx="616.87" cy="478.75" rx="3.1" ry="1.35" transform="rotate(-80.0 616.87 478.75)" fill="#4a90d0" opacity="0.72"/><ellipse cx="613.87" cy="480.34" rx="3.1" ry="1.35" transform="rotate(-156.0 613.87 480.34)" fill="#4a90d0" opacity="0.72"/><ellipse cx="618.45" cy="481.11" rx="3.1" ry="1.35" transform="rotate(-91.2 618.45 481.11)" fill="#4a90d0" opacity="0.72"/><ellipse cx="615.81" cy="483.26" rx="3.1" ry="1.35" transform="rotate(-167.2 615.81 483.26)" fill="#4a90d0" opacity="0.72"/><ellipse cx="620.55" cy="483.26" rx="3.1" ry="1.35" transform="rotate(-101.5 620.55 483.26)" fill="#4a90d0" opacity="0.72"/><ellipse cx="618.34" cy="485.84" rx="3.1" ry="1.35" transform="rotate(-177.5 618.34 485.84)" fill="#4a90d0" opacity="0.72"/><ellipse cx="623.14" cy="485.11" rx="3.1" ry="1.35" transform="rotate(-110.9 623.14 485.11)" fill="#4a90d0" opacity="0.72"/><ellipse cx="621.38" cy="488.03" rx="3.1" ry="1.35" transform="rotate(-186.9 621.38 488.03)" fill="#4a90d0" opacity="0.72"/><ellipse cx="626.13" cy="486.61" rx="3.1" ry="1.35" transform="rotate(-119.6 626.13 486.61)" fill="#4a90d0" opacity="0.72"/><ellipse cx="624.83" cy="489.76" rx="3.1" ry="1.35" transform="rotate(-195.6 624.83 489.76)" fill="#4a90d0" opacity="0.72"/><ellipse cx="650.04" cy="461.80" rx="3.1" ry="1.35" transform="rotate(-2.2 650.04 461.80)" fill="#4a90d0" opacity="0.72"/><ellipse cx="652.04" cy="459.04" rx="3.1" ry="1.35" transform="rotate(73.8 652.04 459.04)" fill="#4a90d0" opacity="0.72"/><ellipse cx="652.39" cy="463.81" rx="3.1" ry="1.35" transform="rotate(7.7 652.39 463.81)" fill="#4a90d0" opacity="0.72"/><ellipse cx="654.83" cy="461.44" rx="3.1" ry="1.35" transform="rotate(83.7 654.83 461.44)" fill="#4a90d0" opacity="0.72"/><ellipse cx="654.23" cy="466.08" rx="3.1" ry="1.35" transform="rotate(18.5 654.23 466.08)" fill="#4a90d0" opacity="0.72"/><ellipse cx="657.07" cy="464.20" rx="3.1" ry="1.35" transform="rotate(94.5 657.07 464.20)" fill="#4a90d0" opacity="0.72"/><ellipse cx="655.52" cy="468.53" rx="3.1" ry="1.35" transform="rotate(30.1 655.52 468.53)" fill="#4a90d0" opacity="0.72"/><ellipse cx="658.68" cy="467.26" rx="3.1" ry="1.35" transform="rotate(106.1 658.68 467.26)" fill="#4a90d0" opacity="0.72"/><ellipse cx="656.24" cy="471.08" rx="3.1" ry="1.35" transform="rotate(42.5 656.24 471.08)" fill="#4a90d0" opacity="0.72"/><ellipse cx="659.59" cy="470.52" rx="3.1" ry="1.35" transform="rotate(118.5 659.59 470.52)" fill="#4a90d0" opacity="0.72"/><ellipse cx="656.38" cy="473.67" rx="3.1" ry="1.35" transform="rotate(55.3 656.38 473.67)" fill="#4a90d0" opacity="0.72"/><ellipse cx="659.78" cy="473.86" rx="3.1" ry="1.35" transform="rotate(131.3 659.78 473.86)" fill="#4a90d0" opacity="0.72"/><ellipse cx="655.94" cy="476.24" rx="3.1" ry="1.35" transform="rotate(67.9 655.94 476.24)" fill="#4a90d0" opacity="0.72"/><ellipse cx="659.21" cy="477.18" rx="3.1" ry="1.35" transform="rotate(143.9 659.21 477.18)" fill="#4a90d0" opacity="0.72"/><ellipse cx="654.93" cy="478.75" rx="3.1" ry="1.35" transform="rotate(80.0 654.93 478.75)" fill="#4a90d0" opacity="0.72"/><ellipse cx="657.93" cy="480.34" rx="3.1" ry="1.35" transform="rotate(156.0 657.93 480.34)" fill="#4a90d0" opacity="0.72"/><ellipse cx="653.35" cy="481.11" rx="3.1" ry="1.35" transform="rotate(91.2 653.35 481.11)" fill="#4a90d0" opacity="0.72"/><ellipse cx="655.99" cy="483.26" rx="3.1" ry="1.35" transform="rotate(167.2 655.99 483.26)" fill="#4a90d0" opacity="0.72"/><ellipse cx="651.25" cy="483.26" rx="3.1" ry="1.35" transform="rotate(101.5 651.25 483.26)" fill="#4a90d0" opacity="0.72"/><ellipse cx="653.46" cy="485.84" rx="3.1" ry="1.35" transform="rotate(177.5 653.46 485.84)" fill="#4a90d0" opacity="0.72"/><ellipse cx="648.66" cy="485.11" rx="3.1" ry="1.35" transform="rotate(110.9 648.66 485.11)" fill="#4a90d0" opacity="0.72"/><ellipse cx="650.42" cy="488.03" rx="3.1" ry="1.35" transform="rotate(186.9 650.42 488.03)" fill="#4a90d0" opacity="0.72"/><ellipse cx="645.67" cy="486.61" rx="3.1" ry="1.35" transform="rotate(119.6 645.67 486.61)" fill="#4a90d0" opacity="0.72"/><ellipse cx="646.97" cy="489.76" rx="3.1" ry="1.35" transform="rotate(195.6 646.97 489.76)" fill="#4a90d0" opacity="0.72"/><path d="M622.5,488.4 Q636,492.6 649.5,488.4" fill="none" stroke="#4a90d0" stroke-width="2.2"/><path d="M630,490.5 l-2,2 M642,490.5 l2,2" fill="none" stroke="#4a90d0" stroke-width="1" opacity="0.6"/>
</svg></body></html>
